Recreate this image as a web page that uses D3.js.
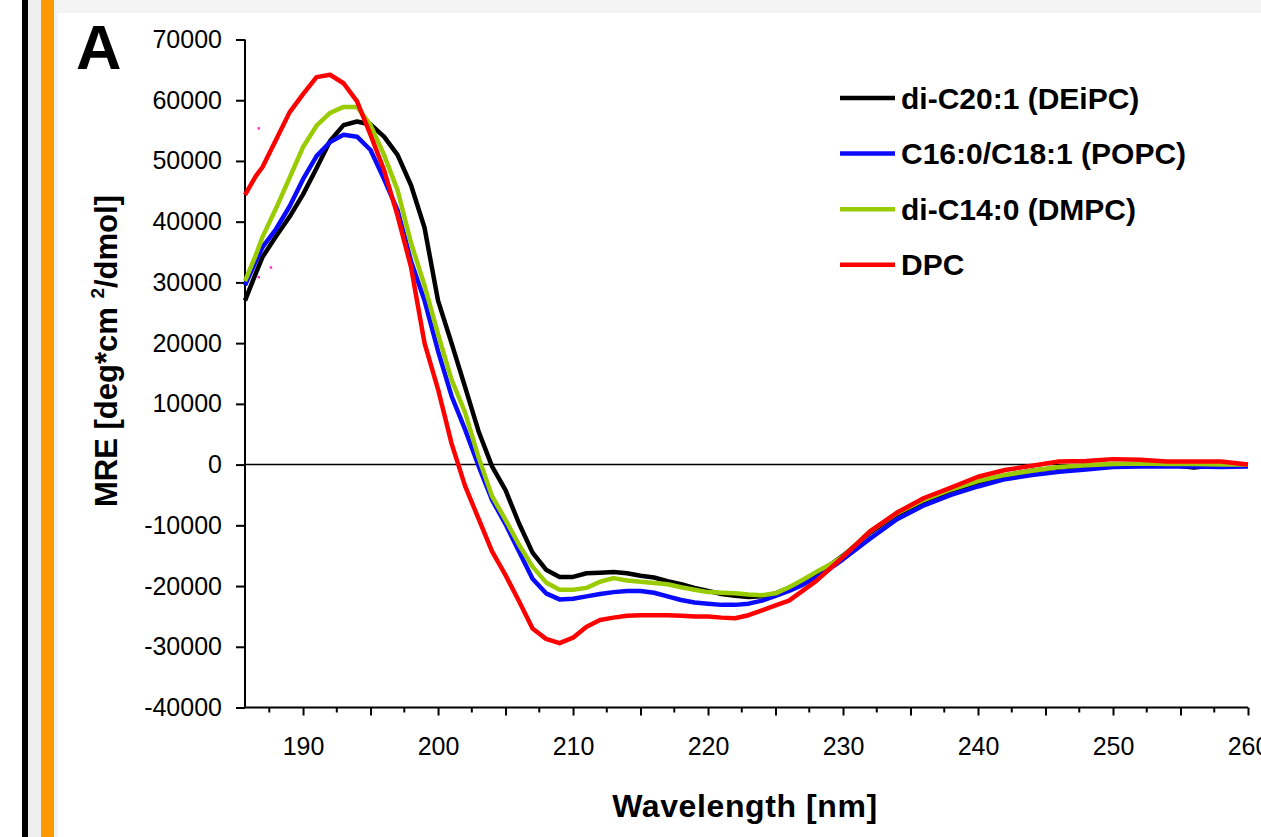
<!DOCTYPE html>
<html>
<head>
<meta charset="utf-8">
<script src="https://cdn.jsdelivr.net/npm/d3@7"></script>
<style>
  body { margin: 0; background: #fff; }
  svg { display: block; font-family: "Liberation Sans", Arial, sans-serif; }
  .tick text { font-size: 25px; fill: #000; }
  .axis path, .axis line { stroke: #000; stroke-width: 2px; }
</style>
</head>
<body>
<svg id="chart" width="1261" height="837"></svg>
<script>
// wavelength grid (nm) shared by all four spectra
const wavelength = [185.7, 186.5, 187, 188, 189, 190, 191, 192, 193, 194, 195, 196, 197, 198, 199,
  200, 201, 202, 203, 204, 205, 206, 207, 208, 209, 210, 211, 212, 213, 214, 215, 216, 217, 218, 219,
  220, 221, 222, 223, 224, 225, 226, 227, 228, 229, 230, 232, 234, 236, 238, 240, 242, 244, 246, 248,
  250, 252, 254, 256, 258, 260];

// MRE values
const deipc = [27000, 31500, 34200, 37600, 40800, 44500, 48800, 53300, 55900, 56500, 56000, 54000, 51000, 46000, 39000,
  27000, 20000, 12800, 5500, -300, -4200, -9700, -14500, -17300, -18500, -18500, -17900, -17800, -17700, -17900, -18300, -18600, -19200, -19700, -20300,
  -20800, -21300, -21600, -21800, -21700, -21200, -20300, -19300, -18000, -16600, -15000, -11200, -8200, -6000, -4300, -3000, -1800, -1000, -500, -200,
  0, 0, 0, -500, 0, 0];
const popc = [29500, 33500, 35800, 38800, 42500, 47000, 50800, 53100, 54300, 54000, 51800, 47000, 41900, 33500, 27000,
  18700, 11300, 5800, -200, -5800, -9800, -14300, -18800, -21200, -22200, -22100, -21700, -21300, -21000, -20800, -20800, -21100, -21700, -22300, -22700,
  -22900, -23100, -23100, -22900, -22400, -21600, -20800, -19800, -18600, -17200, -15600, -12200, -9000, -6700, -5000, -3600, -2400, -1700, -1200, -800,
  -400, -300, -300, -300, -400, -300];
const dmpc = [30200, 34500, 37500, 42200, 47200, 52300, 55800, 57900, 58900, 58900, 55900, 51000, 45200, 36500, 29500,
  21500, 14000, 8600, 1200, -5200, -9100, -13200, -16800, -19400, -20600, -20600, -20300, -19300, -18700, -19100, -19300, -19500, -19700, -20200, -20600,
  -21000, -21100, -21200, -21400, -21500, -21200, -20200, -19000, -17700, -16500, -15100, -11000, -8000, -5800, -4100, -2700, -1700, -1000, -400, -100,
  100, 200, 100, 100, 0, 0];
const dpc = [44400, 47500, 49000, 53500, 58000, 61000, 63800, 64200, 62800, 59800, 54300, 48500, 41000, 32500, 20000,
  12400, 3500, -3500, -8900, -14300, -18200, -22500, -27000, -28700, -29400, -28500, -26700, -25600, -25200, -24900, -24800, -24800, -24800, -24900, -25000,
  -25000, -25200, -25300, -24800, -24000, -23200, -22400, -20800, -19200, -17200, -15200, -11000, -7900, -5500, -3800, -2000, -900, -200, 500, 600,
  900, 800, 500, 500, 500, 0];

// stray magenta points in the original plot
const strayWl = [186.7, 187.6, 186.7];
const strayMre = [55400, 32500, 30900];

const seriesNames = ['di-C20:1 (DEiPC)', 'C16:0/C18:1 (POPC)', 'di-C14:0 (DMPC)', 'DPC'];
const seriesColors = ['#000000', '#0a0aff', '#99cc00', '#ff0000'];
const seriesValues = [deipc, popc, dmpc, dpc];

const yTicks = [70000, 60000, 50000, 40000, 30000, 20000, 10000, 0, -10000, -20000, -30000, -40000];
const xMajor = [190, 195, 200, 205, 210, 215, 220, 225, 230, 235, 240, 245, 250, 255, 260];
const xMinor = [187.5, 192.5, 197.5, 202.5, 207.5, 212.5, 217.5, 222.5, 227.5, 232.5, 237.5, 242.5, 247.5, 252.5, 257.5];

const svg = d3.select('#chart');

// page decoration: left bars and grey frame
svg.append('rect').attr('x', 0).attr('y', 0).attr('width', 1261).attr('height', 837).attr('fill', '#f3f3f3');
svg.append('rect').attr('x', 0).attr('y', 0).attr('width', 22).attr('height', 837).attr('fill', '#fff');
svg.append('rect').attr('x', 22).attr('y', 0).attr('width', 6).attr('height', 837).attr('fill', '#000');
svg.append('rect').attr('x', 28).attr('y', 0).attr('width', 13).attr('height', 837).attr('fill', '#efefef');
svg.append('rect').attr('x', 41).attr('y', 0).attr('width', 13).attr('height', 837).attr('fill', '#ff9900');
svg.append('rect').attr('x', 58).attr('y', 13).attr('width', 1203).attr('height', 824).attr('fill', '#fff');

const margin = {left: 245, top: 39.5, right: 1248, bottom: 707.5};

const x = d3.scaleLinear().domain([185.7, 260]).range([margin.left, margin.right]);
const y = d3.scaleLinear().domain([-40000, 70000]).range([margin.bottom, margin.top]);

// panel letter
svg.append('text')
  .attr('x', 76).attr('y', 69)
  .style('font-size', '63px').style('font-weight', 'bold')
  .text('A');

// zero line
svg.append('line')
  .attr('x1', x(185.7)).attr('x2', x(260))
  .attr('y1', y(0)).attr('y2', y(0))
  .attr('stroke', '#000').attr('stroke-width', 1.5);

// y axis (plain hyphen for negatives, like the original)
const yAxisG = svg.append('g')
  .attr('class', 'axis')
  .attr('transform', `translate(${margin.left},0)`)
  .call(d3.axisLeft(y).tickValues(yTicks).tickSize(9).tickPadding(14).tickSizeOuter(0)
    .tickFormat(d => String(d)));
yAxisG.select('.domain').attr('d', `M0,${margin.top}V${margin.bottom}`);

// x axis: major (5 nm) with labels every 10 nm, minor (2.5 nm)
const xAxisG = svg.append('g')
  .attr('class', 'axis')
  .attr('transform', `translate(0,${margin.bottom})`)
  .call(d3.axisBottom(x).tickValues(xMajor).tickSize(8).tickPadding(22).tickSizeOuter(0)
    .tickFormat(d => d % 10 === 0 ? d : ''));
xAxisG.select('.domain').attr('d', `M${margin.left},0H${margin.right}`);

svg.append('g')
  .attr('class', 'axis')
  .attr('transform', `translate(0,${margin.bottom})`)
  .selectAll('line')
  .data(xMinor)
  .join('line')
  .attr('x1', d => x(d)).attr('x2', d => x(d))
  .attr('y1', 0).attr('y2', 5);

// spectra
const line = d3.line()
  .x((d, i) => x(wavelength[i]))
  .y(d => y(d));

svg.append('g')
  .selectAll('path')
  .data(seriesValues)
  .join('path')
  .attr('d', d => line(d))
  .attr('fill', 'none')
  .attr('stroke', (d, i) => seriesColors[i])
  .attr('stroke-width', 4.5)
  .attr('stroke-linejoin', 'round');

svg.append('g')
  .selectAll('rect')
  .data(strayWl)
  .join('rect')
  .attr('x', (d) => x(d) - 1)
  .attr('y', (d, i) => y(strayMre[i]) - 1)
  .attr('width', 2.5).attr('height', 2.5)
  .attr('fill', '#ff33cc');

// legend
const legend = svg.append('g').attr('transform', 'translate(840,98)');
const rows = legend.selectAll('g')
  .data(seriesNames)
  .join('g')
  .attr('transform', (d, i) => `translate(0,${i * 55.6})`);
rows.append('line')
  .attr('x1', 0).attr('x2', 55)
  .attr('stroke', (d, i) => seriesColors[i])
  .attr('stroke-width', 4.5);
rows.append('text')
  .attr('x', 61).attr('y', 10.5)
  .style('font-size', '30px').style('font-weight', 'bold')
  .text(d => d);

// axis titles
svg.append('text')
  .attr('x', 745).attr('y', 817)
  .attr('text-anchor', 'middle')
  .style('font-size', '32px').style('font-weight', 'bold').style('letter-spacing', '0.6px')
  .text('Wavelength [nm]');

const yTitle = svg.append('text')
  .attr('transform', 'translate(117,351) rotate(-90)')
  .attr('text-anchor', 'middle')
  .style('font-size', '31px').style('font-weight', 'bold');
yTitle.append('tspan').text('MRE [deg*cm ');
yTitle.append('tspan').attr('dy', -13).style('font-size', '19px').text('2');
yTitle.append('tspan').attr('dy', 13).text('/dmol]');
</script>
</body>
</html>
